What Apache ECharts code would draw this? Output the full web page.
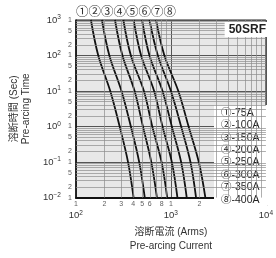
<!DOCTYPE html>
<html>
<head>
<meta charset="utf-8">
<script src="https://cdn.jsdelivr.net/npm/echarts@6/dist/echarts.min.js"></script>
<style>
html, body { margin: 0; padding: 0; background: #fff; }
#main { width: 276px; height: 258px; }
</style>
</head>
<body>
<div id="main"></div>
<script>
// pre-arcing time (s) at which each curve was read
var times = [1000, 100, 10, 1, 0.1, 0.01];
var curveNames = ['①-75A', '②-100A', '③-150A', '④-200A', '⑤-250A', '⑥-300A', '⑦-350A', '⑧-400A'];
// pre-arcing current (Arms) at those times
var c75 = [144, 172, 230, 289, 354, 405];
var c100 = [188, 225, 302, 379, 464, 531];
var c150 = [258, 309, 415, 508, 622, 713];
var c200 = [316, 379, 520, 637, 798, 914];
var c250 = [405, 486, 666, 816, 1023, 1172];
var c300 = [497, 595, 816, 1023, 1282, 1468];
var c350 = [595, 729, 1000, 1282, 1607, 1840];
var c400 = [697, 854, 1197, 1536, 1967, 2306];
var curves = [c75, c100, c150, c200, c250, c300, c350, c400];

// minor tick labels
var xTickValues = [100, 200, 300, 400, 500, 600, 800, 1000, 2000, 3000, 4000, 5000, 6000, 8000, 10000];
var xTickTexts = ['1', '2', '3', '4', '5', '6', '8', '1', '2', '3', '4', '5', '6', '8', '1'];
var yTickValues = [0.01, 0.02, 0.05, 0.1, 0.2, 0.5, 1, 2, 5, 10, 20, 50, 100, 200, 500, 1000];
var yTickTexts = ['1', '2', '5', '1', '2', '5', '1', '2', '5', '1', '2', '5', '1', '2', '5', '1'];
var superDigits = {'-2': '−2', '-1': '−1', '0': '0', '1': '1', '2': '2', '3': '3', '4': '4'};

// minor grid lines
var xGrid = [];
var yGrid = [];
[100, 1000].forEach(function (d) {
    for (var k = 2; k <= 9; k++) xGrid.push({xAxis: k * d});
});
[0.01, 0.1, 1, 10, 100].forEach(function (d) {
    for (var k = 2; k <= 9; k++) yGrid.push({yAxis: +(k * d).toPrecision(3)});
});

var font = 'Liberation Sans, Noto Sans CJK JP, sans-serif';
var chart = echarts.init(document.getElementById('main'));

function powLabel(v) {
    var e = Math.round(Math.log10(v));
    return '10{s|' + superDigits[String(e)] + '}';
}

var series = [];
curves.forEach(function (c, i) {
    series.push({
        name: curveNames[i],
        type: 'line',
        smooth: 0.35,
        showSymbol: false,
        silent: true,
        color: '#111',
        lineStyle: {color: '#111', width: 1.8},
        data: c.map(function (v, j) { return [v, times[j]]; }),
        z: 3
    });
});
series.push({
    type: 'line',
    data: [],
    silent: true,
    markLine: {
        silent: true,
        symbol: ['none', 'none'],
        label: {show: false},
        lineStyle: {color: '#8c8c8c', width: 0.7, type: 'solid'},
        data: xGrid.concat(yGrid)
    },
    z: 1
});
series.push({
    type: 'scatter',
    symbolSize: 0,
    clip: false,
    silent: true,
    data: xTickValues.map(function (v, i) { return [v, 0.01, xTickTexts[i]]; }),
    label: {
        show: true, position: 'bottom', distance: 3,
        fontSize: 7, color: '#333', fontFamily: font,
        formatter: function (p) { return p.data[2]; }
    }
});
series.push({
    type: 'scatter',
    symbolSize: 0,
    clip: false,
    silent: true,
    data: yTickValues.map(function (v, i) { return [100, v, yTickTexts[i]]; }),
    label: {
        show: true, position: 'left', distance: 4,
        fontSize: 7, color: '#333', fontFamily: font,
        formatter: function (p) { return p.data[2]; }
    }
});

var option = {
    animation: false,
    backgroundColor: '#fff',
    title: [
        {
            text: '①②③④⑤⑥⑦⑧',
            left: 71, top: 0,
            textStyle: {fontSize: 12.5, fontWeight: 'normal', color: '#333', fontFamily: 'Noto Sans CJK JP'}
        },
        {
            text: '50SRF',
            right: 6, top: 22,
            padding: [2, 4, 1, 4],
            backgroundColor: '#fff',
            textStyle: {fontSize: 12, fontWeight: 'bold', color: '#222', fontFamily: font}
        }
    ],
    legend: {
        orient: 'vertical',
        left: 214, top: 105,
        icon: 'none',
        itemWidth: 0, itemHeight: 12, itemGap: 0.4,
        padding: [2, 8, 2, 2],
        backgroundColor: '#fff',
        selectedMode: false,
        data: curveNames,
        textStyle: {fontSize: 10.5, color: '#222', fontFamily: font, lineHeight: 12}
    },
    grid: {
        left: 67, top: 20, right: 5, bottom: 50,
        show: true, backgroundColor: '#e8e8e8', borderColor: '#222', borderWidth: 1
    },
    xAxis: {
        type: 'log', logBase: 10, min: 100, max: 10000,
        name: '溶断電流 (Arms)\nPre-arcing Current',
        nameLocation: 'middle', nameGap: 25,
        nameTextStyle: {fontSize: 10, color: '#333', fontFamily: font, lineHeight: 14},
        axisLine: {lineStyle: {color: '#111', width: 2}},
        axisTick: {show: false},
        splitLine: {show: true, lineStyle: {color: '#555', width: 1}},
        axisLabel: {
            margin: 12, fontSize: 9.5, color: '#333', fontFamily: font,
            formatter: powLabel,
            rich: {s: {fontSize: 6.5, padding: [0, 0, 5, 0], color: '#333', fontFamily: font}}
        }
    },
    yAxis: {
        type: 'log', logBase: 10, min: 0.01, max: 1000,
        name: '溶断時間 (Sec)\nPre-arcing Time',
        nameLocation: 'middle', nameGap: 37, nameRotate: 90,
        nameTextStyle: {fontSize: 10, color: '#333', fontFamily: font, lineHeight: 12},
        axisLine: {lineStyle: {color: '#111', width: 1.5}},
        axisTick: {show: false},
        splitLine: {show: true, lineStyle: {color: '#555', width: 1}},
        axisLabel: {
            margin: 15, fontSize: 9.5, color: '#333', fontFamily: font,
            formatter: powLabel,
            rich: {s: {fontSize: 6.5, padding: [0, 0, 5, 0], color: '#333', fontFamily: font}}
        }
    },
    series: series
};
chart.setOption(option);
</script>
</body>
</html>
